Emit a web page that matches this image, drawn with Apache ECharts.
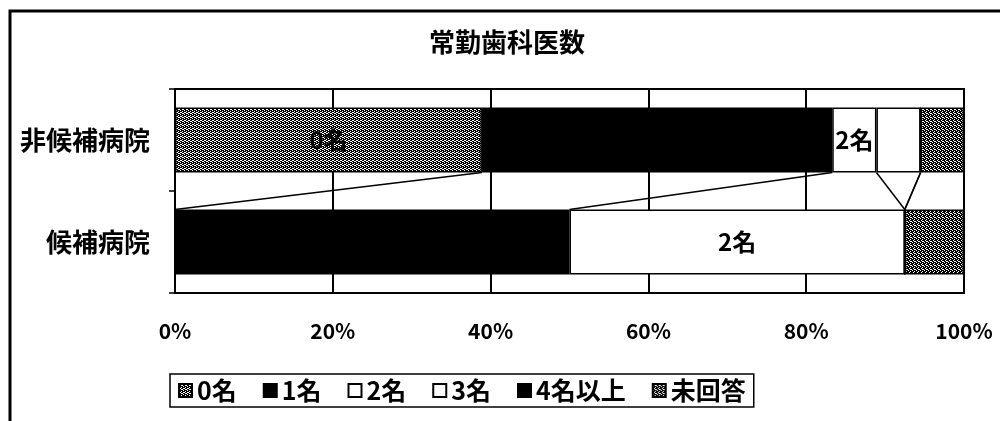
<!DOCTYPE html>
<html>
<head>
<meta charset="utf-8">
<script src="https://cdn.jsdelivr.net/npm/echarts@6/dist/echarts.min.js"></script>
<style>
html,body{margin:0;padding:0;background:#fff;}
#chart{width:1000px;height:421px;}
</style>
</head>
<body>
<div id="chart"></div>
<script>
// ---- data (percent of hospitals) ----
const categories = ['非候補病院', '候補病院'];
const seriesNames = ['0名', '1名', '2名', '3名', '4名以上', '未回答'];
const v0 = [38.9, 0];     // 0名
const v1 = [44.4, 50.0];  // 1名
const v2 = [5.6, 42.5];   // 2名
const v3 = [5.6, 0];      // 3名
const v4 = [0, 0];        // 4名以上
const v5 = [5.5, 7.5];    // 未回答
const xTicks = [0, 20, 40, 60, 80, 100];
const title = '常勤歯科医数';

const allVals = [v0, v1, v2, v3, v4, v5];

function makePattern(dark) {
  const c = document.createElement('canvas');
  c.width = 4; c.height = 4;
  const ctx = c.getContext('2d');
  ctx.fillStyle = '#000';
  ctx.fillRect(0, 0, 4, 4);
  ctx.fillStyle = '#fff';
  const pts = dark ? [[1,0],[3,1],[0,2],[2,3],[2,1]] :
                     [[1,0],[3,1],[0,2],[2,3],[2,1],[0,0]];
  pts.forEach(p => ctx.fillRect(p[0], p[1], 1, 1));
  return { image: c, repeat: 'repeat' };
}

const fills = [makePattern(false), '#000', '#fff', '#fff', '#000', makePattern(true)];
const labelled = [true, false, true, false, false, false];
const FONT = '"Noto Sans CJK JP", "Noto Sans", sans-serif';
const BAR_W = 65;

const barSeries = seriesNames.map((name, i) => ({
  name: name,
  type: 'bar',
  stack: 'total',
  barWidth: BAR_W,
  data: allVals[i],
  itemStyle: { color: fills[i], borderColor: '#000', borderWidth: 1.5 },
  label: {
    show: labelled[i],
    position: 'inside',
    color: '#000',
    fontFamily: FONT,
    fontWeight: 'bold',
    fontSize: 24,
    formatter: p => (p.value > 0 ? p.seriesName : '')
  },
  emphasis: { disabled: true },
  z: 3
}));

// series lines between the two bars, at each cumulative boundary
const lineData = [];
let cTop = 0, cBot = 0;
for (let i = 0; i < allVals.length - 1; i++) {
  cTop += allVals[i][0];
  cBot += allVals[i][1];
  lineData.push([cTop, cBot, 0]);
}

const linesSeries = {
  name: 'seriesLines',
  type: 'custom',
  silent: true,
  encode: { x: [0, 1], y: 2 },
  data: lineData,
  z: 4,
  renderItem: function (params, api) {
    const p1 = api.coord([api.value(0), 0]);
    const p2 = api.coord([api.value(1), 1]);
    return {
      type: 'line',
      shape: { x1: p1[0], y1: p1[1] + BAR_W / 2, x2: p2[0], y2: p2[1] - BAR_W / 2 },
      style: { stroke: '#000', lineWidth: 1.5 }
    };
  }
};

const chart = echarts.init(document.getElementById('chart'), null, { renderer: 'canvas' });
chart.setOption({
  backgroundColor: '#fff',
  animation: false,
  title: {
    text: title,
    left: 424,
    top: 24,
    textStyle: { fontFamily: FONT, fontWeight: 'bold', fontSize: 26, color: '#000' }
  },
  legend: {
    data: seriesNames,
    left: 170,
    top: 374,
    icon: 'rect',
    itemWidth: 13,
    itemHeight: 13,
    itemGap: 26,
    padding: [4, 8, 4, 8],
    borderColor: '#000',
    borderWidth: 1.5,
    selectedMode: false,
    textStyle: { fontFamily: FONT, fontWeight: 'bold', fontSize: 25, color: '#000' }
  },
  grid: {
    left: 175, right: 36, top: 89, bottom: 128,
    show: true, borderColor: '#000', borderWidth: 2, backgroundColor: 'transparent'
  },
  xAxis: {
    type: 'value',
    min: xTicks[0],
    max: xTicks[xTicks.length - 1],
    interval: xTicks[1] - xTicks[0],
    axisLine: { show: false },
    axisTick: { show: false },
    splitLine: { show: true, lineStyle: { color: '#000', width: 2 } },
    axisLabel: {
      formatter: '{value}%',
      margin: 28,
      fontFamily: FONT, fontWeight: 'bold', fontSize: 21, color: '#000'
    }
  },
  yAxis: {
    type: 'category',
    data: categories,
    inverse: true,
    axisLine: { show: false },
    axisTick: { show: true, length: 6, lineStyle: { color: '#000', width: 1.5 } },
    axisLabel: {
      margin: 25,
      fontFamily: FONT, fontWeight: 'bold', fontSize: 26, color: '#000'
    }
  },
  graphic: [{
    type: 'rect',
    shape: { x: 10, y: 11, width: 1000, height: 420 },
    style: { fill: 'none', stroke: '#000', lineWidth: 3 },
    silent: true
  }],
  series: barSeries.concat([linesSeries])
});
</script>
</body>
</html>
